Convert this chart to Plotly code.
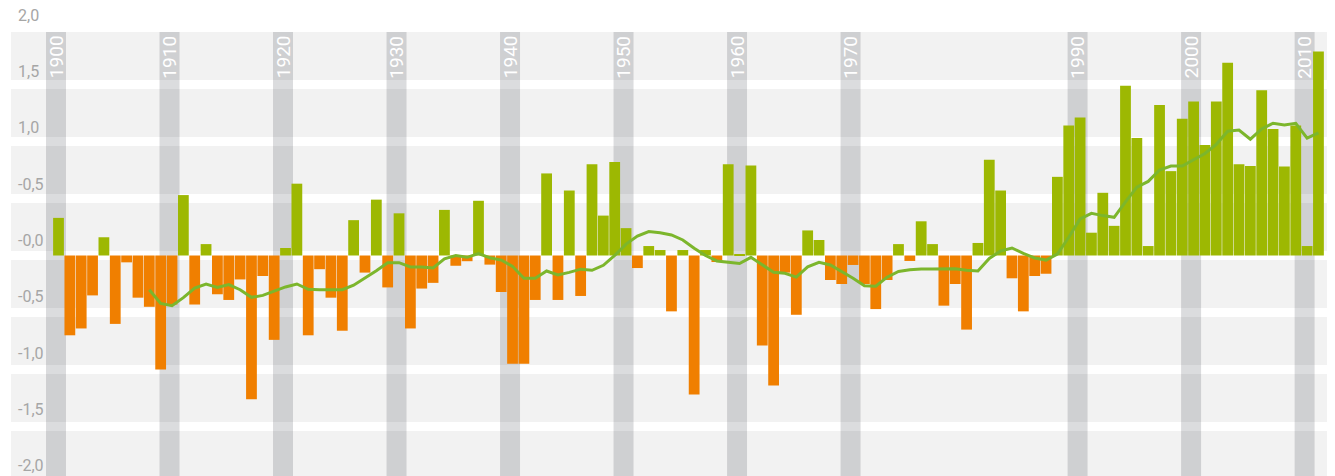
import plotly.graph_objects as go

# ---------------- data ----------------
years = list(range(1900, 2012))
anomaly = [
    0.33, -0.70, -0.64, -0.35, 0.16, -0.60, -0.06, -0.37, -0.45, -1.00,   # 1900-1909
    -0.43, 0.53, -0.43, 0.10, -0.34, -0.39, -0.21, -1.26, -0.18, -0.74,   # 1910-1919
    0.066, 0.63, -0.70, -0.12, -0.37, -0.66, 0.31, -0.15, 0.49, -0.28,    # 1920-1929
    0.37, -0.64, -0.29, -0.24, 0.40, -0.09, -0.05, 0.48, -0.08, -0.32,    # 1930-1939
    -0.95, -0.95, -0.39, 0.72, -0.39, 0.57, -0.355, 0.80, 0.35, 0.82,     # 1940-1949
    0.24, -0.11, 0.083, 0.048, -0.49, 0.048, -1.22, 0.048, -0.057, 0.80,  # 1950-1959
    0.013, 0.79, -0.79, -1.14, -0.15, -0.52, 0.22, 0.136, -0.215, -0.25,  # 1960-1969
    -0.083, -0.25, -0.47, -0.215, 0.10, -0.048, 0.30, 0.10, -0.44, -0.25, # 1970-1979
    -0.65, 0.11, 0.84, 0.57, -0.20, -0.49, -0.18, -0.16, 0.69, 1.14,      # 1980-1989
    1.21, 0.20, 0.55, 0.26, 1.49, 1.03, 0.083, 1.32, 0.74, 1.20,          # 1990-1999
    1.35, 0.97, 1.35, 1.69, 0.80, 0.785, 1.45, 1.11, 0.78, 1.14,          # 2000-2009
    0.083, 1.79,                                                          # 2010-2011
]

trend_years = list(range(1908, 2012))
trend = [
    -0.30, -0.42,                                                          # 1908-1909
    -0.44, -0.37, -0.285, -0.25, -0.28, -0.255, -0.30, -0.367, -0.35, -0.31,  # 1910-1919
    -0.276, -0.25, -0.297, -0.30, -0.30, -0.30, -0.26, -0.20, -0.133, -0.063, # 1920-1929
    -0.063, -0.10, -0.10, -0.11, -0.03, 0.00, -0.016, 0.016, -0.02, -0.04,    # 1930-1939
    -0.095, -0.20, -0.20, -0.136, -0.171, -0.148, -0.12, -0.13, -0.086, 0.00, # 1940-1949
    0.10, 0.17, 0.21, 0.20, 0.18, 0.136, 0.063, 0.00, -0.048, -0.06,          # 1950-1959
    -0.07, -0.016, -0.083, -0.148, -0.156, -0.19, -0.10, -0.06, -0.083, -0.14,# 1960-1969
    -0.20, -0.265, -0.27, -0.19, -0.14, -0.125, -0.118, -0.118, -0.118, -0.117,# 1970-1979
    -0.13, -0.136, -0.026, 0.04, 0.066, 0.018, -0.022, -0.04, 0.013, 0.16,    # 1980-1989
    0.32, 0.37, 0.35, 0.335, 0.47, 0.60, 0.65, 0.75, 0.785, 0.785,            # 1990-1999
    0.84, 0.895, 0.975, 1.09, 1.10, 1.02, 1.11, 1.16, 1.145, 1.16,            # 2000-2009
    1.03, 1.075,                                                              # 2010-2011
]

decades = [1900, 1910, 1920, 1930, 1940, 1950, 1960, 1970, 1990, 2000, 2010]
decade_labels = [str(d) for d in decades]

y_ticks = [2.0, 1.5, 1.0, 0.5, 0.0, -0.5, -1.0, -1.5, -2.0]
y_tick_labels = ["2,0", "1,5", "1,0", "-0,5", "-0,0", "-0,5", "-1,0", "-1,5", "-2,0"]

# ---------------- styling ----------------
GREEN = "#9db802"
ORANGE = "#f07f00"
LINE = "#7cb62c"
BG = "#f2f2f2"
LABEL_GREY = "#a6a6a6"

PAGE_MARGIN = 8           # default body margin of the html page
W, H = 1335 - PAGE_MARGIN, 476 - PAGE_MARGIN
PX_PER_YEAR = 11.351
X0 = 1900 - (58.5 - PAGE_MARGIN) / PX_PER_YEAR
X1 = X0 + W / PX_PER_YEAR
PX_PER_UNIT = 114.0
ZERO_PX = 255.5 - PAGE_MARGIN
Y1 = ZERO_PX / PX_PER_UNIT
Y0 = -(H - ZERO_PX) / PX_PER_UNIT

grid_left = X0 + (11 - PAGE_MARGIN) / PX_PER_YEAR
grid_right = X0 + (1330 - PAGE_MARGIN) / PX_PER_YEAR
grid_top = 2.0 - 4.5 / PX_PER_UNIT
half_stripe = 4.5 / PX_PER_UNIT

# tick labels sit just above their stripe (slightly tighter spacing than the grid)
LABEL_OFFSET = 0.132
LABEL_SCALE = 0.988

colors = [GREEN if v >= 0 else ORANGE for v in anomaly]

fig = go.Figure()
fig.add_trace(go.Bar(
    x=years, y=anomaly, marker=dict(color=colors, line=dict(width=0)),
    hoverinfo="x+y",
))
fig.add_trace(go.Scatter(
    x=trend_years, y=trend, mode="lines",
    line=dict(color=LINE, width=3),
    hoverinfo="x+y",
))

shapes = []
# grey background
shapes.append(dict(type="rect", xref="x", yref="y", x0=grid_left, x1=grid_right,
                   y0=-3, y1=grid_top, fillcolor=BG, line=dict(width=0), layer="below"))
# white stripes at each gridline
for v in y_ticks[1:]:
    shapes.append(dict(type="rect", xref="x", yref="y", x0=grid_left, x1=grid_right,
                       y0=v - half_stripe, y1=v + half_stripe,
                       fillcolor="white", line=dict(width=0), layer="below"))
# decade bands
for d in decades:
    shapes.append(dict(type="rect", xref="x", yref="y", x0=d - 1.1, x1=d + 0.66,
                       y0=-3, y1=grid_top, fillcolor="rgba(0,5,20,0.14)",
                       line=dict(width=0), layer="below"))

annotations = []
for v, t in zip(y_ticks, y_tick_labels):
    annotations.append(dict(
        xref="paper", yref="y", x=(15.5 - PAGE_MARGIN) / W,
        y=LABEL_OFFSET + LABEL_SCALE * v, text=t,
        showarrow=False, xanchor="left", yanchor="middle",
        font=dict(family="Roboto", size=16, color=LABEL_GREY),
    ))
for d, t in zip(decades, decade_labels):
    annotations.append(dict(
        xref="x", yref="y", x=d - 0.22, y=1.74, text=t, showarrow=False,
        textangle=-90, xanchor="center", yanchor="middle",
        font=dict(family="Roboto", size=19, color="white"),
    ))

fig.update_layout(
    width=W, height=H,
    margin=dict(l=0, r=0, t=0, b=0),
    paper_bgcolor="white", plot_bgcolor="white",
    showlegend=False, bargap=0.05,
    xaxis=dict(range=[X0, X1], visible=False, fixedrange=True),
    yaxis=dict(range=[Y0, Y1], visible=False, fixedrange=True),
    shapes=shapes, annotations=annotations,
)

fig.write_html("out.html")
